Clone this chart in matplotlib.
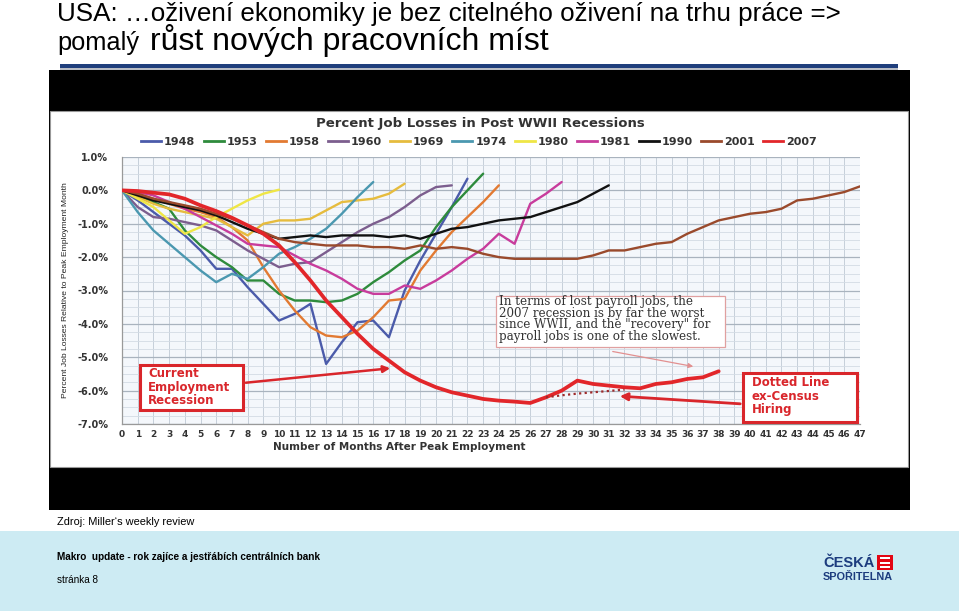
import matplotlib
matplotlib.use('Agg')
import matplotlib.pyplot as plt
from matplotlib.patches import Rectangle
from matplotlib.lines import Line2D

# ---------------- data ----------------
months_max = 47
years = ['1948', '1953', '1958', '1960', '1969', '1974', '1980', '1981', '1990', '2001', '2007']

r1948 = [0, -0.3, -0.65, -1.0, -1.35, -1.8, -2.35, -2.35, -2.9, -3.4, -3.9, -3.7, -3.4, -5.2,
         -4.55, -3.95, -3.9, -4.4, -3.0, -2.1, -1.3, -0.5, 0.35]
r1953 = [0, -0.2, -0.35, -0.55, -1.2, -1.65, -2.0, -2.3, -2.7, -2.7, -3.1, -3.3, -3.3, -3.35,
         -3.3, -3.1, -2.75, -2.45, -2.1, -1.8, -1.1, -0.5, 0.0, 0.5]
r1958 = [0, -0.1, -0.25, -0.4, -0.55, -0.65, -0.8, -1.1, -1.5, -2.3, -3.0, -3.6, -4.1, -4.35,
         -4.4, -4.2, -3.8, -3.3, -3.25, -2.4, -1.8, -1.25, -0.8, -0.35, 0.15]
r1960 = [0, -0.5, -0.8, -0.85, -0.95, -1.05, -1.2, -1.5, -1.8, -2.05, -2.3, -2.2, -2.15, -1.85,
         -1.55, -1.25, -1.0, -0.8, -0.5, -0.15, 0.1, 0.15]
r1969 = [0, -0.2, -0.4, -0.55, -0.65, -0.75, -0.85, -1.1, -1.35, -1.0, -0.9, -0.9, -0.85, -0.6,
         -0.35, -0.3, -0.25, -0.1, 0.2]
r1974 = [0, -0.65, -1.2, -1.6, -2.0, -2.4, -2.75, -2.5, -2.65, -2.3, -1.9, -1.7, -1.45, -1.15,
         -0.7, -0.2, 0.25]
r1980 = [0, -0.25, -0.5, -0.9, -1.3, -1.1, -0.8, -0.55, -0.3, -0.1, 0.02]
r1981 = [0, -0.05, -0.15, -0.35, -0.55, -0.8, -1.05, -1.3, -1.6, -1.65, -1.7, -1.95, -2.2, -2.4,
         -2.65, -2.95, -3.1, -3.1, -2.85, -2.95, -2.7, -2.4, -2.05, -1.75, -1.3, -1.6, -0.4, -0.1, 0.25]
r1990 = [0, -0.15, -0.3, -0.4, -0.5, -0.6, -0.75, -0.95, -1.15, -1.3, -1.45, -1.4, -1.35, -1.4,
         -1.35, -1.35, -1.35, -1.4, -1.35, -1.45, -1.3, -1.15, -1.1, -1.0, -0.9, -0.85, -0.8, -0.65,
         -0.5, -0.35, -0.1, 0.15]
r2001 = [0, -0.1, -0.25, -0.35, -0.45, -0.55, -0.7, -0.85, -1.05, -1.25, -1.45, -1.55, -1.6, -1.65,
         -1.65, -1.65, -1.7, -1.7, -1.75, -1.65, -1.75, -1.7, -1.75, -1.9, -2.0, -2.05, -2.05, -2.05,
         -2.05, -2.05, -1.95, -1.8, -1.8, -1.7, -1.6, -1.55, -1.3, -1.1, -0.9, -0.8, -0.7, -0.65,
         -0.55, -0.3, -0.25, -0.15, -0.05, 0.12]
r2007 = [0, -0.02, -0.07, -0.12, -0.25, -0.45, -0.62, -0.82, -1.05, -1.3, -1.65, -2.15, -2.7, -3.3,
         -3.8, -4.3, -4.75, -5.1, -5.45, -5.7, -5.9, -6.05, -6.15, -6.25, -6.3, -6.33, -6.37, -6.2,
         -6.0, -5.7, -5.8, -5.85, -5.9, -5.93, -5.8, -5.75, -5.65, -5.6, -5.42]
census_start = 27
r2007_ex_census = [-6.2, -6.14, -6.09, -6.05, -6.01, -5.97]

colors = ['#4B5BAA', '#2E8B3C', '#E27A32', '#7C5E8E', '#E6BC3E', '#4B98B0', '#EFE645',
          '#C83C9C', '#111111', '#9A4A2C', '#E2262A']
series = [r1948, r1953, r1958, r1960, r1969, r1974, r1980, r1981, r1990, r2001, r2007]
yticks = [1, 0, -1, -2, -3, -4, -5, -6, -7]

note_text = ('In terms of lost payroll jobs, the\n2007 recession is by far the worst\n'
             'since WWII, and the "recovery" for\npayroll jobs is one of the slowest.')
current_text = 'Current\nEmployment\nRecession'
census_text = 'Dotted Line\nex-Census\nHiring'

# ---------------- figure / slide ----------------
W, H = 959, 615
def fx(x): return x / W
def fy(y): return 1 - y / H

fig = plt.figure(figsize=(W / 100, H / 100), dpi=100)
fig.patch.set_facecolor('white')

narrow = ['Liberation Sans Narrow', 'Liberation Sans', 'DejaVu Sans']

# slide title
fig.text(fx(57), fy(21), 'USA: …oživení ekonomiky je bez citelného oživení na trhu práce =>',
         family=narrow, fontsize=18.7, ha='left', va='baseline', color='black')
fig.text(fx(57), fy(50), 'pomalý', family=narrow, fontsize=18.3, ha='left', va='baseline', color='black')
fig.text(fx(150), fy(50), 'růst nových pracovních míst', family=narrow, fontsize=23,
         ha='left', va='baseline', color='black')

# navy rule under the title
fig.patches.append(Rectangle((fx(60), fy(68)), fx(898) - fx(60), 4 / H, transform=fig.transFigure,
                             facecolor='#1F3E7C', edgecolor='none', zorder=1))
fig.patches.append(Rectangle((fx(60), fy(70)), fx(898) - fx(60), 2 / H, transform=fig.transFigure,
                             facecolor='#B8BCC4', edgecolor='none', zorder=1))

# black frame of the picture
fig.patches.append(Rectangle((fx(49), fy(510)), fx(910) - fx(49), (510 - 70) / H,
                             transform=fig.transFigure, facecolor='black', edgecolor='none', zorder=0.1))
fig.patches.append(Rectangle((fx(50), fy(467)), fx(908) - fx(50), (467 - 111) / H,
                             transform=fig.transFigure, facecolor='white', edgecolor='#999999',
                             linewidth=0.8, zorder=0.2))

# footer
fig.text(fx(57), fy(522), 'Zdroj: Miller‘s weekly review', family=narrow, fontsize=7.9,
         ha='left', va='center', color='black')
fig.patches.append(Rectangle((0, fy(611)), 1, (611 - 531) / H, transform=fig.transFigure,
                             facecolor='#CDEBF3', edgecolor='none', zorder=0.1))
fig.text(fx(57), fy(557), 'Makro  update - rok zajíce a jestřábích centrálních bank', family=narrow,
         fontsize=7.2, fontweight='bold', ha='left', va='center', color='black')
fig.text(fx(57), fy(580), 'stránka 8', family=narrow, fontsize=7.2, ha='left', va='center', color='black')

# logo
fig.text(fx(823), fy(563), 'ČESKÁ', family=narrow, fontsize=10.5, fontweight='bold',
         ha='left', va='center', color='#1C3C7E')
fig.text(fx(823), fy(577), 'SPOŘITELNA', family=narrow, fontsize=7.8, fontweight='bold',
         ha='left', va='center', color='#1C3C7E')
fig.patches.append(Rectangle((fx(877), fy(570)), 16 / W, 15 / H, transform=fig.transFigure,
                             facecolor='#E30613', edgecolor='none', zorder=2))
for yy in (559, 563.5, 568):
    fig.patches.append(Rectangle((fx(880), fy(yy)), 10 / W, 1.6 / H, transform=fig.transFigure,
                                 facecolor='white', edgecolor='none', zorder=3))

# ---------------- chart ----------------
ax = fig.add_axes([fx(122), fy(424), fx(860) - fx(122), fy(157) - fy(424)])
ax.set_zorder(2)
ax.set_facecolor('#F4F7FB')
ax.set_xlim(0, months_max)
ax.set_ylim(-7, 1)

ax.set_xticks(range(0, months_max + 1))
ax.set_xticklabels([str(m) for m in range(0, months_max + 1)])
ax.set_yticks(yticks)
ax.set_yticklabels(['%.1f%%' % v for v in yticks])
ax.set_yticks([v / 4 for v in range(-28, 5)], minor=True)
ax.grid(True, which='major', axis='y', color='#A9B3BE', linewidth=0.9)
ax.grid(True, which='minor', axis='y', color='#D3DBE4', linewidth=0.6)
ax.grid(True, which='major', axis='x', color='#C6CFD9', linewidth=0.7)
ax.set_axisbelow(True)
ax.tick_params(axis='both', which='both', length=0)
ax.tick_params(axis='y', pad=10, labelsize=7, labelcolor='#333333')
ax.tick_params(axis='x', pad=4, labelsize=6.5, labelcolor='#333333')
for lab in ax.get_xticklabels() + ax.get_yticklabels():
    lab.set_fontweight('bold')
for s in ('top', 'right'):
    ax.spines[s].set_visible(False)
for s in ('left', 'bottom'):
    ax.spines[s].set_color('#999999')
    ax.spines[s].set_linewidth(0.9)

handles = []
for name, vals, col in zip(years, series, colors):
    lw = 2.7 if name == '2007' else 1.7
    ax.plot(range(len(vals)), vals, color=col, linewidth=lw, solid_capstyle='round',
            solid_joinstyle='round', zorder=3 if name != '2007' else 4)
    handles.append(Line2D([0], [0], color=col, linewidth=2.0))
ax.plot(range(census_start, census_start + len(r2007_ex_census)), r2007_ex_census,
        color='#9E2A2A', linewidth=1.6, linestyle=(0, (1, 1.5)), zorder=4)

ax.set_xlabel('Number of Months After Peak Employment', fontsize=7.5, fontweight='bold',
              color='#333333')
ax.xaxis.set_label_coords((399 - 122) / 738, -(447 - 424) / 267)
ax.xaxis.label.set_va('center')
ax.set_ylabel('Percent Job Losses Relative to Peak Employment Month', family=narrow,
              fontsize=6.1, color='#222222')
ax.yaxis.set_label_coords(-(122 - 65) / 738, (424 - 290) / 267)
ax.yaxis.label.set_va('center')

fig.text(fx(480), fy(124), 'Percent Job Losses in Post WWII Recessions', fontsize=9.5,
         fontweight='bold', ha='center', va='center', color='#333333', zorder=5)
fig.legend(handles, years, loc='center', bbox_to_anchor=(fx(479), fy(142)), ncol=11,
           frameon=False, handlelength=1.8, handletextpad=0.25, columnspacing=0.75,
           prop={'size': 8, 'weight': 'bold'}, labelcolor='#333333')

# annotation boxes (figure-pixel placement)
def box(x0, y0, x1, y1, ec, lw):
    ax.add_patch(Rectangle((fx(x0), fy(y1)), fx(x1) - fx(x0), (y1 - y0) / H, transform=fig.transFigure,
                           facecolor='white', edgecolor=ec, linewidth=lw, clip_on=False, zorder=6))

box(140, 365, 243, 410, '#D9262B', 2.2)
ax.text(fx(148), fy(387), current_text, transform=fig.transFigure, fontsize=8.5, fontweight='bold',
        color='#D9262B', ha='left', va='center', linespacing=1.04, zorder=7)
ax.annotate('', xy=(fx(393), fy(368)), xytext=(fx(243), fy(383)), xycoords='figure fraction',
            textcoords='figure fraction', annotation_clip=False,
            arrowprops=dict(arrowstyle='-|>', color='#D9262B', lw=1.8, mutation_scale=10), zorder=7)

box(743, 373, 857, 422, '#D9262B', 2.2)
ax.text(fx(752), fy(396), census_text, transform=fig.transFigure, fontsize=8.5, fontweight='bold',
        color='#D9262B', ha='left', va='center', linespacing=1.04, zorder=7)
ax.annotate('', xy=(fx(617), fy(396)), xytext=(fx(743), fy(404)), xycoords='figure fraction',
            textcoords='figure fraction', annotation_clip=False,
            arrowprops=dict(arrowstyle='-|>', color='#D9262B', lw=2.0, mutation_scale=11), zorder=7)

box(496, 296, 725, 347, '#E0A0A0', 0.9)
ax.text(fx(499), fy(319), note_text, transform=fig.transFigure, fontsize=8.6,
        family=['DejaVu Serif'], color='#333333', ha='left', va='center', linespacing=0.86, zorder=7)
ax.annotate('', xy=(fx(696), fy(367)), xytext=(fx(610), fy(351)), xycoords='figure fraction',
            textcoords='figure fraction', annotation_clip=False,
            arrowprops=dict(arrowstyle='-|>', color='#E29090', lw=0.9, mutation_scale=7), zorder=7)

fig.savefig('out.png', dpi=100, facecolor='white')
